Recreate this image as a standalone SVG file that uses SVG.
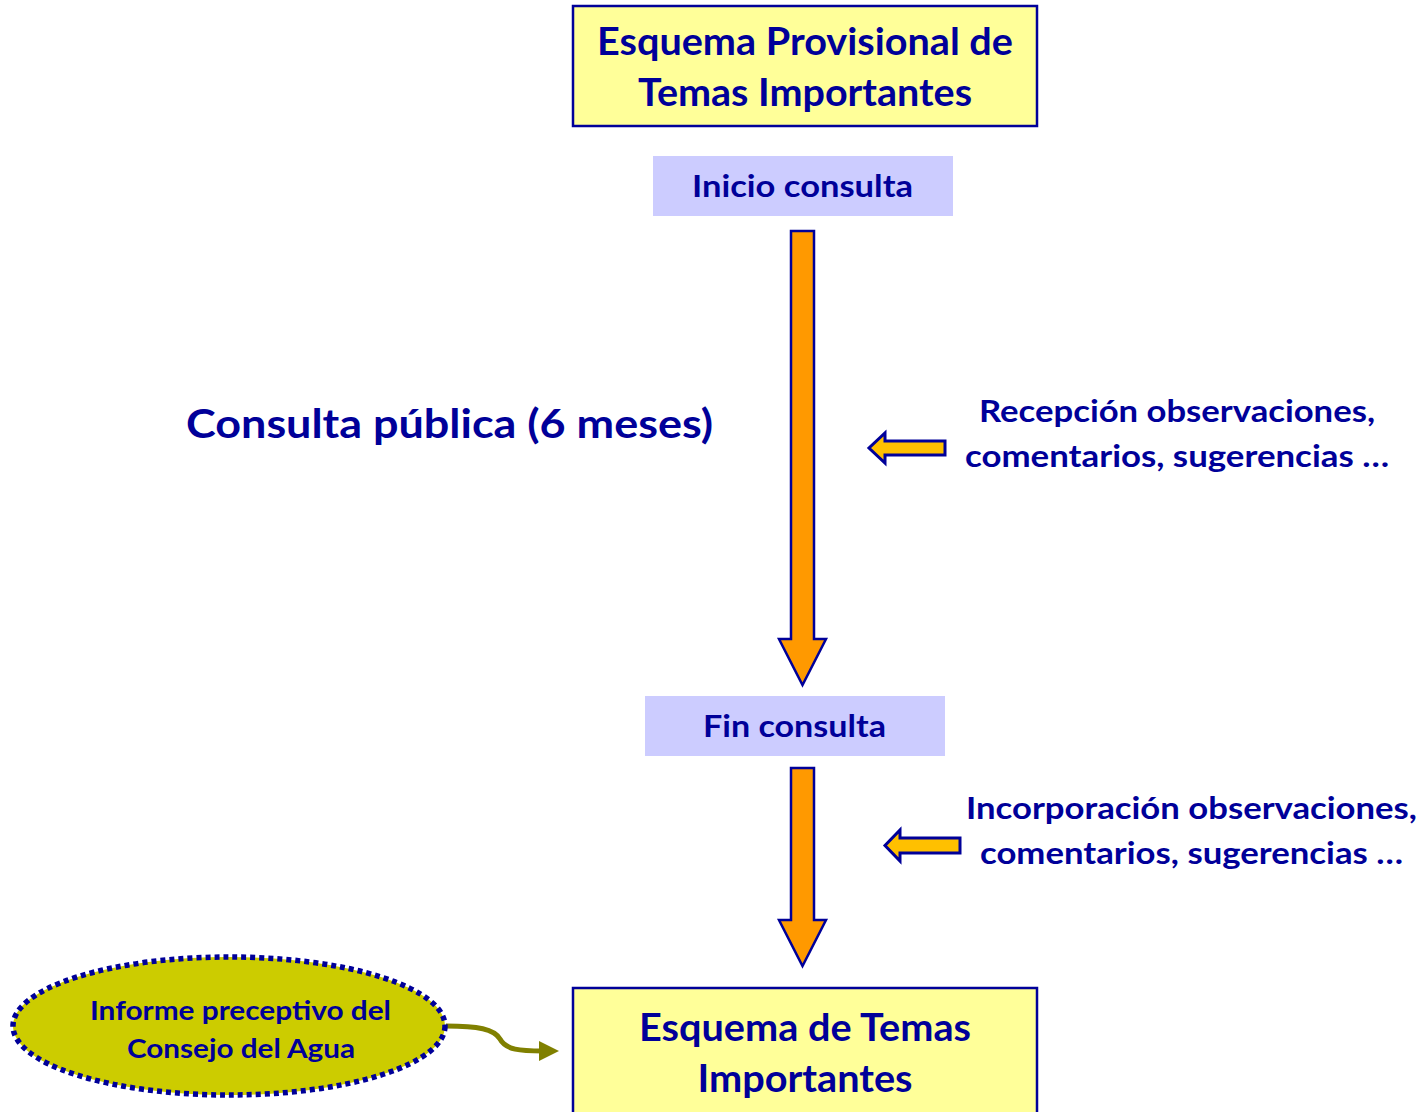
<svg xmlns="http://www.w3.org/2000/svg" width="1423" height="1112" viewBox="0 0 1423 1112">
<style>
text{font-family:Lato,"Open Sans","Liberation Sans",sans-serif;font-weight:bold;fill:#000099;text-anchor:middle}
.ybox{fill:#FFFF99;stroke:#000099;stroke-width:2.5}
.pbox{fill:#CCCCFF}
.big{fill:#FF9900;stroke:#000099;stroke-width:2.5;stroke-linejoin:miter}
.small{fill:#FFC000;stroke:#000099;stroke-width:3}
</style>
<defs>
<marker id="oh" viewBox="0 0 10 10" refX="2" refY="5" markerWidth="4" markerHeight="4" orient="auto" markerUnits="strokeWidth">
<path d="M0,0 L10,5 L0,10 z" fill="#808000"/>
</marker>
</defs>
<rect width="1423" height="1112" fill="#fff"/>
<g id="connectors">
<path id="arrow1" class="big" d="M791,231 H814 V639 H826 L802.5,685 L779,639 H791 Z"/>
<path id="arrow2" class="big" d="M791,768 H814 V920 H826 L802.5,966 L779,920 H791 Z"/>
<path id="arrow3" class="small" d="M945,441 V455 H885 V463 L869,448 L885,433 V441 Z"/>
<path id="arrow4" class="small" d="M960,838 V853 H900 V861 L885,845.5 L900,830 V838 Z"/>
<path id="curve" d="M446,1026 C478,1026 494,1029 500,1039 C506,1050 520,1051 543,1051" fill="none" stroke="#808000" stroke-width="5" marker-end="url(#oh)"/>
</g>
<g id="n-provisional">
<rect class="ybox" x="573" y="6" width="464" height="120"/>
<text x="805" y="55" font-size="38" textLength="416" lengthAdjust="spacingAndGlyphs">Esquema Provisional de</text>
<text x="805" y="106" font-size="38" textLength="334" lengthAdjust="spacingAndGlyphs">Temas Importantes</text>
</g>
<g id="n-inicio">
<rect class="pbox" x="653" y="156" width="300" height="60"/>
<text x="802.5" y="197" font-size="30" textLength="221" lengthAdjust="spacingAndGlyphs">Inicio consulta</text>
</g>
<g id="n-consulta">
<text x="449.5" y="438" font-size="41" textLength="527" lengthAdjust="spacingAndGlyphs">Consulta pública (6 meses)</text>
</g>
<g id="n-recepcion">
<text x="1177" y="422" font-size="30" textLength="396" lengthAdjust="spacingAndGlyphs">Recepción observaciones,</text>
<text x="1177" y="467" font-size="30" textLength="424" lengthAdjust="spacingAndGlyphs">comentarios, sugerencias …</text>
</g>
<g id="n-fin">
<rect class="pbox" x="645" y="696" width="300" height="60"/>
<text x="794.5" y="737" font-size="30" textLength="183" lengthAdjust="spacingAndGlyphs">Fin consulta</text>
</g>
<g id="n-incorporacion">
<text x="1191.5" y="819" font-size="30" textLength="451" lengthAdjust="spacingAndGlyphs">Incorporación observaciones,</text>
<text x="1191.5" y="864" font-size="30" textLength="423" lengthAdjust="spacingAndGlyphs">comentarios, sugerencias …</text>
</g>
<g id="n-esquema">
<rect class="ybox" x="573" y="988" width="464" height="130"/>
<text x="805" y="1041" font-size="38" textLength="332" lengthAdjust="spacingAndGlyphs">Esquema de Temas</text>
<text x="805" y="1092" font-size="38" textLength="215" lengthAdjust="spacingAndGlyphs">Importantes</text>
</g>
<g id="n-informe">
<ellipse cx="229" cy="1026" rx="216" ry="69" fill="#CCCC00" stroke="#000099" stroke-width="5.5" stroke-dasharray="5 4"/>
<text x="240.5" y="1020" font-size="27" textLength="301" lengthAdjust="spacingAndGlyphs">Informe preceptivo del</text>
<text x="241" y="1058" font-size="27" textLength="228" lengthAdjust="spacingAndGlyphs">Consejo del Agua</text>
</g>
</svg>
